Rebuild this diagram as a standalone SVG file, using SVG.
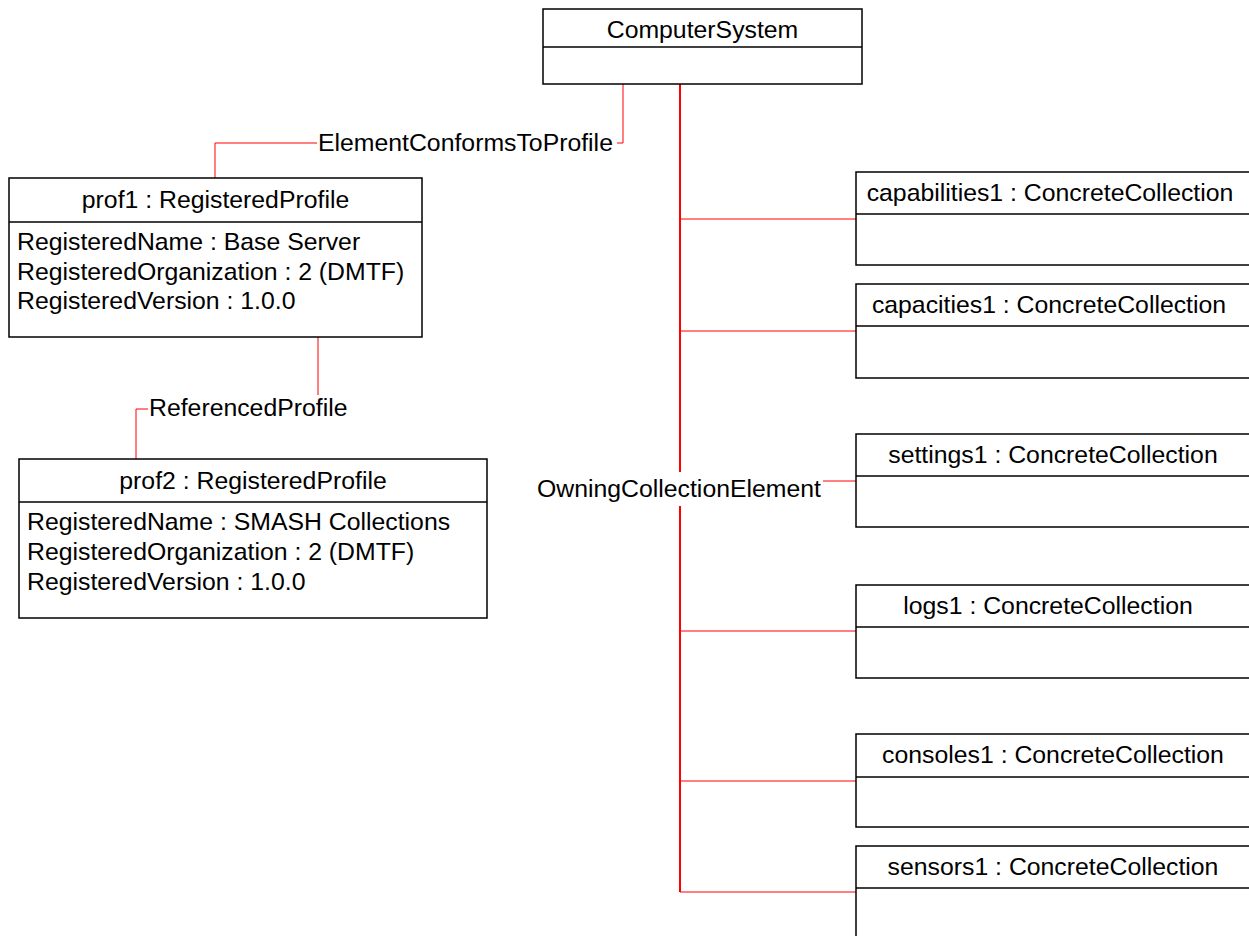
<svg xmlns="http://www.w3.org/2000/svg" width="1249" height="936" viewBox="0 0 1249 936">
<style>
.box{fill:#fff;stroke:#000;stroke-width:1.5}
.sep{stroke:#000;stroke-width:1.5}
.t{font-family:"Liberation Sans",Arial,sans-serif;font-size:24.8px;fill:#000}
.c{text-anchor:middle}
.conn{fill:none;stroke:#ff0000;stroke-width:1}
.main{fill:none;stroke:#ff0000;stroke-width:2}
.lbl{fill:#fff;stroke:none}
</style>
<g id="connectors">
<polyline class="conn" points="623,84 623,143 215,143 215,178"/>
<rect class="lbl" x="317" y="130" width="300" height="26"/>
<text class="t" x="318" y="151">ElementConformsToProfile</text>
<polyline class="conn" points="318,337 318,409 136,409 136,459"/>
<rect class="lbl" x="148" y="395" width="200" height="26"/>
<text class="t" x="149" y="416">ReferencedProfile</text>
<line class="main" x1="680" y1="84" x2="680" y2="892"/>
<line class="conn" x1="680" y1="219" x2="856" y2="219"/>
<line class="conn" x1="680" y1="331" x2="856" y2="331"/>
<line class="conn" x1="680" y1="631" x2="856" y2="631"/>
<line class="conn" x1="680" y1="781" x2="856" y2="781"/>
<line class="conn" x1="680" y1="892" x2="856" y2="892"/>
<rect class="lbl" x="535" y="472" width="288" height="34"/>
<text class="t" x="537" y="497">OwningCollectionElement</text>
<line class="conn" x1="823" y1="481" x2="856" y2="481"/>
</g>
<g id="ComputerSystem">
<rect class="box" x="543" y="9" width="319" height="75"/>
<line class="sep" x1="543" y1="47" x2="862" y2="47"/>
<text class="t c" x="702.5" y="38">ComputerSystem</text>
</g>
<g id="prof1">
<rect class="box" x="9" y="178" width="413" height="159"/>
<line class="sep" x1="9" y1="222" x2="422" y2="222"/>
<text class="t c" x="215.5" y="208">prof1 : RegisteredProfile</text>
<text class="t" x="17" y="250">RegisteredName : Base Server</text>
<text class="t" x="17" y="280">RegisteredOrganization : 2 (DMTF)</text>
<text class="t" x="17" y="309">RegisteredVersion : 1.0.0</text>
</g>
<g id="prof2">
<rect class="box" x="19" y="459" width="468" height="159"/>
<line class="sep" x1="19" y1="502" x2="487" y2="502"/>
<text class="t c" x="253" y="489">prof2 : RegisteredProfile</text>
<text class="t" x="27" y="530">RegisteredName : SMASH Collections</text>
<text class="t" x="27" y="560">RegisteredOrganization : 2 (DMTF)</text>
<text class="t" x="27" y="590">RegisteredVersion : 1.0.0</text>
</g>
<g id="capabilities1">
<rect class="box" x="856" y="172" width="400" height="93"/>
<line class="sep" x1="856" y1="214" x2="1256" y2="214"/>
<text class="t c" x="1050" y="201">capabilities1 : ConcreteCollection</text>
</g>
<g id="capacities1">
<rect class="box" x="856" y="284" width="400" height="94"/>
<line class="sep" x1="856" y1="326" x2="1256" y2="326"/>
<text class="t c" x="1049" y="313">capacities1 : ConcreteCollection</text>
</g>
<g id="settings1">
<rect class="box" x="856" y="434" width="400" height="93"/>
<line class="sep" x1="856" y1="476" x2="1256" y2="476"/>
<text class="t c" x="1053" y="463">settings1 : ConcreteCollection</text>
</g>
<g id="logs1">
<rect class="box" x="856" y="585" width="400" height="93"/>
<line class="sep" x1="856" y1="627" x2="1256" y2="627"/>
<text class="t c" x="1048" y="614">logs1 : ConcreteCollection</text>
</g>
<g id="consoles1">
<rect class="box" x="856" y="734" width="400" height="93"/>
<line class="sep" x1="856" y1="777" x2="1256" y2="777"/>
<text class="t c" x="1053" y="763">consoles1 : ConcreteCollection</text>
</g>
<g id="sensors1">
<rect class="box" x="856" y="846" width="400" height="120"/>
<line class="sep" x1="856" y1="888" x2="1256" y2="888"/>
<text class="t c" x="1053" y="875">sensors1 : ConcreteCollection</text>
</g>
</svg>
